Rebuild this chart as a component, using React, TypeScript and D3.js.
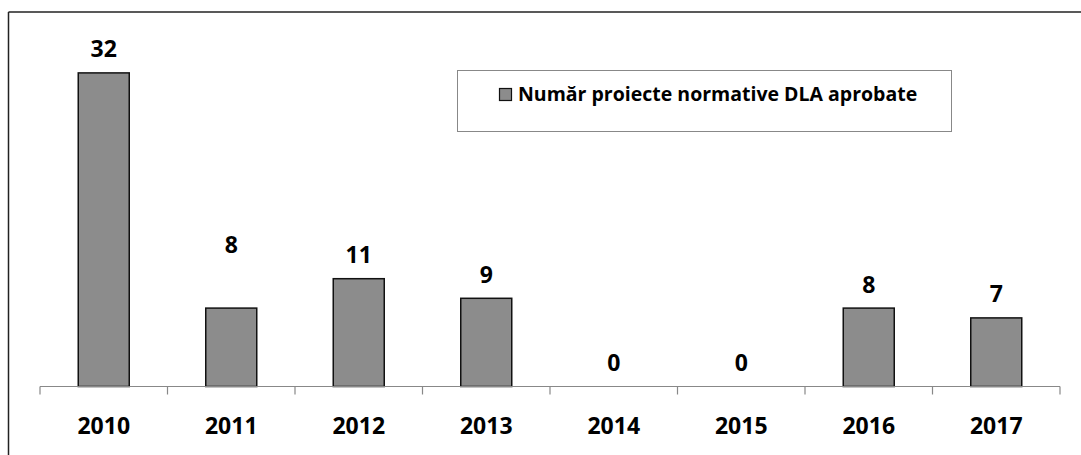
import React from "react";
import * as d3 from "d3";

const categories = ["2010", "2011", "2012", "2013", "2014", "2015", "2016", "2017"];
const values = [32, 8, 11, 9, 0, 0, 8, 7];
const seriesName = "Număr proiecte normative DLA aprobate";

const W = 1081;
const H = 455;
const FONT = "'Open Sans', 'DejaVu Sans', sans-serif";

export default function App() {
  const x = d3.scaleBand<string>().domain(categories).range([40, 1060]).paddingInner(0.6).paddingOuter(0.3);
  const y = d3.scaleLinear().domain([0, 35]).range([386.5, 43.5]);
  const baseY = y(0);
  const step = x.step();
  const outer = x.range()[0];
  // label lift for the 2011 value, as in the original
  const labelLift: Record<string, number> = { "2011": 40 };

  return (
    <svg
      width={W}
      height={H}
      style={{ position: "fixed", left: 0, top: 0, background: "#fff" }}
      fontFamily={FONT}
    >
      <rect x={0} y={0} width={W} height={H} fill="#fff" />
      {/* chart border */}
      <line x1={8.5} y1={12} x2={W + 5} y2={12} stroke="#222" strokeWidth={1.5} />
      <line x1={8.5} y1={12} x2={8.5} y2={H + 5} stroke="#222" strokeWidth={1.5} />

      {/* bars */}
      {categories.map((c, i) => (
        <rect
          key={c}
          x={x(c)!}
          y={y(values[i])}
          width={x.bandwidth()}
          height={baseY - y(values[i])}
          fill="#8c8c8c"
          stroke="#111"
          strokeWidth={1.5}
        />
      ))}

      {/* axis */}
      <line x1={outer} y1={baseY} x2={outer + step * categories.length} y2={baseY} stroke="#888" strokeWidth={1.2} />
      {d3.range(categories.length + 1).map((i) => (
        <line
          key={i}
          x1={outer + i * step}
          x2={outer + i * step}
          y1={baseY}
          y2={baseY + 8}
          stroke="#888"
          strokeWidth={1.2}
        />
      ))}
      {categories.map((c) => (
        <text
          key={c}
          x={x(c)! + x.bandwidth() / 2}
          y={433.5}
          textAnchor="middle"
          fontWeight="bold"
          fontSize={23}
          fill="#000"
        >
          {c}
        </text>
      ))}

      {/* data labels */}
      {categories.map((c, i) => (
        <text
          key={c}
          x={x(c)! + x.bandwidth() / 2}
          y={y(values[i]) - 15.5 - (labelLift[c] || 0)}
          textAnchor="middle"
          fontWeight="bold"
          fontSize={23}
          fill="#000"
        >
          {values[i]}
        </text>
      ))}

      {/* legend */}
      <rect x={457.5} y={70.5} width={494} height={61} fill="#fff" stroke="#888" strokeWidth={1} />
      <rect x={499.5} y={88.5} width={12} height={12} fill="#8c8c8c" stroke="#111" strokeWidth={1.2} />
      <text x={518} y={100.5} fontWeight="bold" fontSize={19.5} fill="#000">
        {seriesName}
      </text>
    </svg>
  );
}
